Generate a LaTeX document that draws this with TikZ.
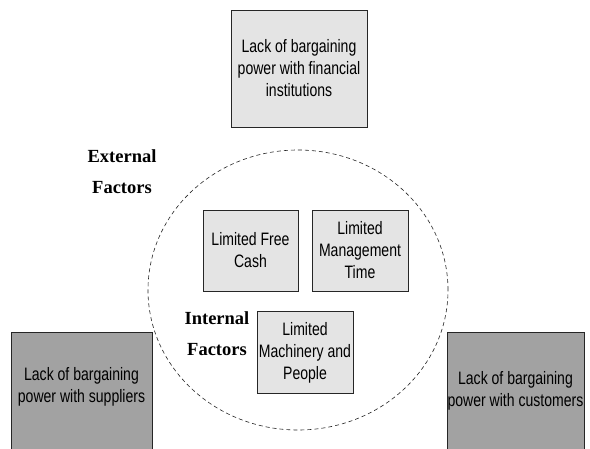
\documentclass[tikz,border=0pt]{standalone}
\usepackage{fontspec}
\setmainfont{Liberation Serif}
\newfontfamily\boxfont[FakeStretch=0.78]{Liberation Sans}
\usetikzlibrary{shapes.geometric}
\definecolor{lightbox}{HTML}{E4E4E4}
\definecolor{darkbox}{HTML}{A2A2A2}
\begin{document}
\begin{tikzpicture}[x=1pt, y=-1pt, thin,
  ext box/.style={rectangle,draw=black!85,fill=lightbox,inner sep=0pt,align=center,
    font=\boxfont\fontsize{18}{22}\selectfont},
  dark box/.style={ext box,fill=darkbox},
  int box/.style={ext box,fill=lightbox,minimum height=81pt},
  factor label/.style={align=center,font=\bfseries\fontsize{18.5}{31}\selectfont}]
\useasboundingbox[fill=white] (0,0) rectangle (590,448);
\node [draw=black!85,line width=0.6pt,dash pattern=on 4pt off 3pt,ellipse,minimum width=300pt,minimum height=280pt](c) at (298,290) {};
\begin{scope}
%\node (v0) at (0,0) {};
\node [ext box,minimum width=136pt,minimum height=117pt](e1) at (299,68.5) {Lack of bargaining\\power with financial\\institutions};
\node [dark box,minimum width=141pt,minimum height=120pt,text depth=14pt](e2) at (81.5,392) {Lack of bargaining\\power with suppliers};
\node [dark box,minimum width=137pt,minimum height=120pt,text depth=6pt](e3) at (515.5,392) {Lack of bargaining\\power with customers};
\node [int box,minimum width=95pt](i1) at (250.5,250.5) {Limited Free\\Cash};
\node [int box,minimum width=96pt](i2) at (360,250.5) {Limited\\Management\\Time};
\node [int box,minimum width=96pt,minimum height=82pt,text depth=3pt](i3) at (305,352) {Limited\\Machinery and\\People};
\end{scope}
\node [factor label](t1) at (122,172) {External\\Factors};
\node [factor label](t2) at (217,334) {Internal\\Factors};
\end{tikzpicture}
\end{document}
